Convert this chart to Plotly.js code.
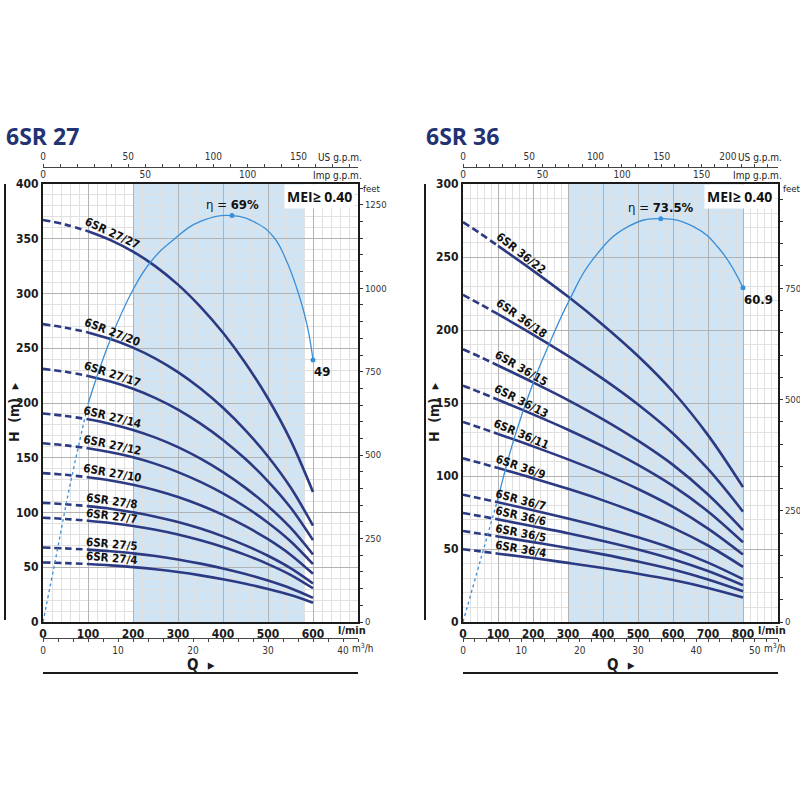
<!DOCTYPE html>
<html><head><meta charset="utf-8">
<script src="https://cdn.plot.ly/plotly-3.0.1.min.js"></script>
<style>body{margin:0;background:#fff}#chart{width:800px;height:800px}</style>
</head><body><div id="chart"></div>
<script>
// ---------------- DATA ----------------
// 6SR 27 : flow (l/min) and head (m)
const Q27 = [0, 50, 100, 150, 200, 250, 300, 350, 400, 450, 500, 550, 600];
const H27_27 = [367.2, 362.9, 356.9, 348.8, 338.3, 324.8, 308.1, 287.8, 264.1, 236.3, 204.1, 166.1, 118.8];
const H27_20 = [272, 268.8, 264.4, 258.4, 250.6, 240.6, 228.2, 213.2, 195.6, 175, 151.2, 123, 88];
const H27_17 = [231.2, 228.5, 224.7, 219.6, 213, 204.5, 194, 181.2, 166.3, 148.8, 128.5, 104.6, 74.8];
const H27_14 = [190.4, 188.2, 185.1, 180.9, 175.4, 168.4, 159.7, 149.2, 136.9, 122.5, 105.8, 86.1, 61.6];
const H27_12 = [163.2, 161.3, 158.6, 155, 150.4, 144.4, 136.9, 127.9, 117.4, 105, 90.7, 73.8, 52.8];
const H27_10 = [136, 134.4, 132.2, 129.2, 125.3, 120.3, 114.1, 106.6, 97.8, 87.5, 75.6, 61.5, 44];
const H27_8 = [108.8, 107.5, 105.8, 103.4, 100.2, 96.2, 91.3, 85.3, 78.2, 70, 60.5, 49.2, 35.2];
const H27_7 = [95.2, 94.1, 92.5, 90.4, 87.7, 84.2, 79.9, 74.6, 68.5, 61.3, 52.9, 43.1, 30.8];
const H27_5 = [68, 67.2, 66.1, 64.6, 62.7, 60.2, 57.1, 53.3, 48.9, 43.8, 37.8, 30.8, 22];
const H27_4 = [54.4, 53.8, 52.9, 51.7, 50.1, 48.1, 45.6, 42.6, 39.1, 35, 30.2, 24.6, 17.6];
const NAMES27 = ['6SR 27/27', '6SR 27/20', '6SR 27/17', '6SR 27/14', '6SR 27/12', '6SR 27/10', '6SR 27/8', '6SR 27/7', '6SR 27/5', '6SR 27/4'];
// 6SR 27 efficiency (%)
const QE27 = [0, 30, 58, 100, 150, 200, 240, 290, 350, 420, 475, 512, 540, 565, 586, 600];
const E27 = [0, 11.5, 22.5, 37, 48, 56.4, 61.2, 64.9, 68, 69, 67.7, 65.4, 61.5, 56.4, 50.7, 44.5];
const EFF27_PEAK = '69%', EFF27_END = '49';

// 6SR 36 : flow (l/min) and head (m)
const Q36 = [0, 50, 100, 200, 300, 400, 500, 600, 700, 800];
const H36_22 = [273.9, 266, 257.6, 240.7, 222.9, 203.5, 182.2, 157.7, 128, 92.4];
const H36_18 = [224.1, 217.6, 210.8, 196.9, 182.3, 166.5, 149, 129.1, 104.8, 75.6];
const H36_15 = [186.8, 181.4, 175.7, 164.1, 152, 138.8, 124.2, 107.6, 87.3, 63];
const H36_13 = [161.9, 157.2, 152.2, 142.2, 131.7, 120.3, 107.6, 93.2, 75.7, 54.6];
const H36_11 = [137, 133, 128.8, 120.3, 111.4, 101.8, 91.1, 78.9, 64, 46.2];
const H36_9 = [112.1, 108.8, 105.4, 98.5, 91.2, 83.3, 74.5, 64.5, 52.4, 37.8];
const H36_7 = [87.2, 84.6, 82, 76.6, 70.9, 64.8, 58, 50.2, 40.7, 29.4];
const H36_6 = [74.7, 72.5, 70.3, 65.6, 60.8, 55.5, 49.7, 43, 34.9, 25.2];
const H36_5 = [62.3, 60.5, 58.6, 54.7, 50.7, 46.3, 41.4, 35.9, 29.1, 21];
const H36_4 = [49.8, 48.4, 46.8, 43.8, 40.5, 37, 33.1, 28.7, 23.3, 16.8];
const NAMES36 = ['6SR 36/22', '6SR 36/18', '6SR 36/15', '6SR 36/13', '6SR 36/11', '6SR 36/9', '6SR 36/7', '6SR 36/6', '6SR 36/5', '6SR 36/4'];
// 6SR 36 efficiency (%)
const QE36 = [0, 50, 100, 145, 200, 250, 305, 370, 470, 565, 660, 735, 800];
const E36 = [0, 11.3, 22.5, 33.2, 43.5, 51.2, 58.8, 66.0, 72, 73.5, 72, 67.8, 60.9];
const EFF36_PEAK = '73.5%', EFF36_END = '60.9';

// recommended ranges (l/min)
const RANGE27 = [200, 580];
const RANGE36 = [300, 800];
// axis tick labels
const LMIN27 = [0, 100, 200, 300, 400, 500, 600];
const LMIN36 = [0, 100, 200, 300, 400, 500, 600, 700, 800];

// ---------------- STYLE ----------------
const F = "'Liberation Sans Narrow','DejaVu Sans Condensed','Arial Narrow',sans-serif";
const NAVY = '#2b3a82', EFFC = '#3a8fd8', SHADE = '#d1e4f4', INK = '#1b1b1b', TITLE = '#233272';
const px = v => v / 800, py = v => 1 - v / 800;
const ANG27 = [25, 21, 18, 14, 12, 10, 8, 7, 5, 5];
const ANG36 = [38, 35, 30, 27, 23, 19, 15, 13, 11, 10];

function interp(xs, ys, x) {
  for (let i = 0; i < xs.length - 1; i++) {
    if (x >= xs[i] && x <= xs[i + 1]) return ys[i] + (ys[i + 1] - ys[i]) * (x - xs[i]) / (xs[i + 1] - xs[i]);
  }
  return ys[ys.length - 1];
}

const traces = [], annotations = [], shapes = [];
const layout = {
  width: 800, height: 800, margin: {l: 0, r: 0, t: 0, b: 0, autoexpand: false},
  paper_bgcolor: '#fff', plot_bgcolor: '#fff', showlegend: false,
  font: {family: F, color: INK}
};

function buildChart(o) {
  const [xa, xb, xc, xd] = o.xs;
  const [ya, yb, yc] = o.ys;
  const xk = s => s === 'x1' ? 'x' : s;
  const yk = s => s === 'y1' ? 'y' : s;
  const lay = s => s.replace(/^x1$/, 'x').replace(/^y1$/, 'y').replace(/^x/, 'xaxis').replace(/^y/, 'yaxis');
  const dom = [px(o.X0), px(o.X1)], ydom = [py(622), py(184)];
  const tickF = {family: F, size: 12, color: INK, weight: 'bold'};
  const smallF = {family: F, size: 10, color: '#333'};

  layout[lay(xa)] = {domain: dom, range: [0, o.qmax], anchor: yk(ya), tickvals: o.lmin, ticks: '',
    showline: true, linecolor: INK, linewidth: 2, showgrid: true, gridcolor: '#b3b3b3', gridwidth: 1,
    minor: {tickmode: 'linear', tick0: 0, dtick: 20, showgrid: true, gridcolor: '#e0e0e0', gridwidth: 1, ticks: ''},
    zeroline: false, tickfont: tickF, fixedrange: true, automargin: false};
  layout[lay(ya)] = {domain: ydom, range: [0, o.hmax], anchor: xk(xa), dtick: 50, tick0: 0, ticks: '',
    showline: true, linecolor: INK, linewidth: 2, showgrid: true, gridcolor: '#b3b3b3', gridwidth: 1,
    minor: {tickmode: 'linear', tick0: 0, dtick: 10, showgrid: true, gridcolor: '#e0e0e0', gridwidth: 1, ticks: ''},
    zeroline: false, tickfont: tickF, fixedrange: true, automargin: false};
  layout[lay(xb)] = {overlaying: xk(xa), anchor: yk(ya), side: 'top', range: [0, o.qmax / 4.546],
    tickvals: o.imp, ticks: '', showline: true, linecolor: INK, linewidth: 2,
    showgrid: false, zeroline: false, tickfont: smallF, fixedrange: true, automargin: false};
  layout[lay(xc)] = {overlaying: xk(xa), anchor: 'free', position: py(167), side: 'top', range: [0, o.qmax / 3.785],
    tickvals: o.us, ticks: 'outside', ticklen: 3, tickcolor: '#444',
    minor: {tickmode: 'linear', tick0: 0, dtick: 10, ticks: 'outside', ticklen: 3, tickcolor: '#444'},
    showline: true, linecolor: '#444', linewidth: 1, showgrid: false, zeroline: false, tickfont: smallF, fixedrange: true, automargin: false};
  layout[lay(xd)] = {overlaying: xk(xa), anchor: 'free', position: py(638), side: 'bottom', range: [0, o.qmax / 16.667],
    tickvals: o.m3h, ticks: 'outside', ticklen: 3, tickcolor: '#444',
    minor: {tickmode: 'linear', tick0: 0, dtick: 2, ticks: 'outside', ticklen: 3, tickcolor: '#444'},
    showline: true, linecolor: '#444', linewidth: 1, showgrid: false, zeroline: false, tickfont: smallF, fixedrange: true, automargin: false};
  layout[lay(yb)] = {overlaying: yk(ya), anchor: xk(xa), side: 'right', range: [0, o.hmax / 0.3048],
    tickmode: 'linear', tick0: 0, dtick: 250, ticks: 'outside', ticklen: 3, tickcolor: '#333',
    minor: {tickmode: 'linear', tick0: 0, dtick: 50, ticks: 'outside', ticklen: 3, tickcolor: '#333'},
    showline: true, linecolor: INK, linewidth: 2, showgrid: false, zeroline: false,
    tickfont: {family: F, size: 9.5, color: '#333'}, fixedrange: true, automargin: false};
  layout[lay(yc)] = {overlaying: yk(ya), anchor: xk(xa), range: [0, o.emax], visible: false, fixedrange: true};

  [[xb, ya], [xc, ya], [xd, ya], [xa, yb]].forEach(([a, b]) =>
    traces.push({type: 'scatter', mode: 'lines', x: [], y: [], xaxis: xk(a), yaxis: yk(b), hoverinfo: 'skip', showlegend: false}));

  shapes.push({type: 'rect', xref: xk(xa), yref: yk(ya), x0: o.range[0], x1: o.range[1], y0: 0, y1: o.hmax,
    fillcolor: SHADE, line: {width: 0}, layer: 'below'});

  o.curves.forEach((H, i) => {
    const iSolid = o.Q.indexOf(100);
    traces.push({type: 'scatter', mode: 'lines', x: o.Q.slice(0, iSolid + 1), y: H.slice(0, iSolid + 1),
      xaxis: xk(xa), yaxis: yk(ya), line: {color: NAVY, width: 2.6, dash: '7px,4px', shape: 'spline', smoothing: 1}, hoverinfo: 'skip'});
    traces.push({type: 'scatter', mode: 'lines', x: o.Q.slice(iSolid), y: H.slice(iSolid),
      xaxis: xk(xa), yaxis: yk(ya), line: {color: NAVY, width: 2.6, shape: 'spline', smoothing: 1}, hoverinfo: 'skip'});
    const ang = o.ang[i];
    annotations.push({xref: xk(xa), yref: yk(ya), x: o.labQ, y: interp(o.Q, H, o.labQ), text: o.names[i],
      showarrow: false, textangle: ang, yshift: 7.5 / Math.cos(ang * Math.PI / 180), xanchor: 'center', yanchor: 'middle',
      font: {family: F, size: 11.5, color: '#111', weight: 'bold'}});
  });

  const iE = o.QE.indexOf(100);
  traces.push({type: 'scatter', mode: 'lines', x: o.QE.slice(0, iE + 1), y: o.E.slice(0, iE + 1), xaxis: xk(xa), yaxis: yk(yc),
    line: {color: EFFC, width: 1.3, dash: '3px,3px', shape: 'spline', smoothing: 1}, hoverinfo: 'skip'});
  traces.push({type: 'scatter', mode: 'lines', x: o.QE.slice(iE), y: o.E.slice(iE), xaxis: xk(xa), yaxis: yk(yc),
    line: {color: EFFC, width: 1.3, shape: 'spline', smoothing: 1.3}, hoverinfo: 'skip'});
  const ip = o.E.indexOf(Math.max(...o.E)), ie = o.E.length - 1;
  traces.push({type: 'scatter', mode: 'markers', x: [o.QE[ip], o.QE[ie]], y: [o.E[ip], o.E[ie]], xaxis: xk(xa), yaxis: yk(yc),
    marker: {color: EFFC, size: 5}, hoverinfo: 'skip'});
  annotations.push({xref: xk(xa), yref: yk(yc), x: o.QE[ip], y: o.E[ip], text: 'η = <b>' + o.peak + '</b>', showarrow: false,
    xanchor: 'center', yanchor: 'bottom', yshift: 2, font: {family: F, size: 13, color: '#111'}});
  annotations.push({xref: xk(xa), yref: yk(yc), x: o.QE[ie], y: o.E[ie], text: o.end, showarrow: false,
    xanchor: 'left', yanchor: 'top', xshift: -1, yshift: -2, font: {family: F, size: 13, color: '#111', weight: 'bold'}});

  const P = (x, y, text, extra) => annotations.push(Object.assign({xref: 'paper', yref: 'paper', x: px(x), y: py(y), text: text,
    showarrow: false, xanchor: 'center', yanchor: 'middle', font: {family: F, size: 10, color: '#222'}}, extra || {}));
  P(o.Xt, 136, o.title, {xanchor: 'left', font: {family: "'Open Sans','Liberation Sans',sans-serif", size: 23, color: TITLE, weight: 'bold'}});
  P(o.X1 - 3, 197, 'MEI≥ 0.40', {xanchor: 'right', bgcolor: '#fff', borderpad: 2,
    font: {family: "'Open Sans','Liberation Sans',sans-serif", size: 14, color: '#111', weight: 'bold'}});
  P(o.X1 + 3, 188, 'feet', {xanchor: 'left', font: {family: F, size: 9.5, color: '#222'}});
  P(o.X1 + 6, 157, 'US g.p.m.', {xanchor: 'right'});
  P(o.X1 + 6, 175, 'Imp g.p.m.', {xanchor: 'right'});
  P(o.lminX, 630, 'l/min', {xanchor: 'left', font: {family: F, size: 11, color: INK, weight: 'bold'}});
  P(o.m3hX, 648, 'm<sup>3</sup>/h', {xanchor: 'left'});
  P(o.Xv + 9, 412, 'H  (m)  ▸', {textangle: -90, font: {family: F, size: 14, color: INK, weight: 'bold'}});
  P((o.X0 + o.X1) / 2, 665, 'Q  ▸', {font: {family: F, size: 15, color: INK, weight: 'bold'}});
  shapes.push({type: 'line', xref: 'paper', yref: 'paper', x0: px(o.Xv), x1: px(o.Xv), y0: py(620), y1: py(184), line: {color: INK, width: 2}});
  shapes.push({type: 'line', xref: 'paper', yref: 'paper', x0: px(o.X0), x1: px(o.X1), y0: py(673), y1: py(673), line: {color: INK, width: 2}});
}

buildChart({xs: ['x1', 'x2', 'x3', 'x4'], ys: ['y1', 'y2', 'y3'], X0: 43, X1: 358, Xt: 4, Xv: 5, m3hX: 350, lminX: 336,
  qmax: 700, hmax: 400, emax: 74.36, lmin: LMIN27, imp: [0, 50, 100], us: [0, 50, 100, 150], m3h: [0, 10, 20, 30, 40],
  range: RANGE27, Q: Q27, curves: [H27_27, H27_20, H27_17, H27_14, H27_12, H27_10, H27_8, H27_7, H27_5, H27_4],
  names: NAMES27, ang: ANG27, labQ: 154, QE: QE27, E: E27, peak: EFF27_PEAK, end: EFF27_END, title: '6SR 27'});
buildChart({xs: ['x5', 'x6', 'x7', 'x8'], ys: ['y4', 'y5', 'y6'], X0: 463, X1: 778, Xt: 424, Xv: 425, m3hX: 762, lminX: 756,
  qmax: 900, hmax: 300, emax: 79.82, lmin: LMIN36, imp: [0, 50, 100, 150], us: [0, 50, 100, 150, 200], m3h: [0, 10, 20, 30, 40, 50],
  range: RANGE36, Q: Q36, curves: [H36_22, H36_18, H36_15, H36_13, H36_11, H36_9, H36_7, H36_6, H36_5, H36_4],
  names: NAMES36, ang: ANG36, labQ: 166, QE: QE36, E: E36, peak: EFF36_PEAK, end: EFF36_END, title: '6SR 36'});

layout.annotations = annotations;
layout.shapes = shapes;
Plotly.newPlot('chart', traces, layout, {staticPlot: true, displayModeBar: false});
</script></body></html>
